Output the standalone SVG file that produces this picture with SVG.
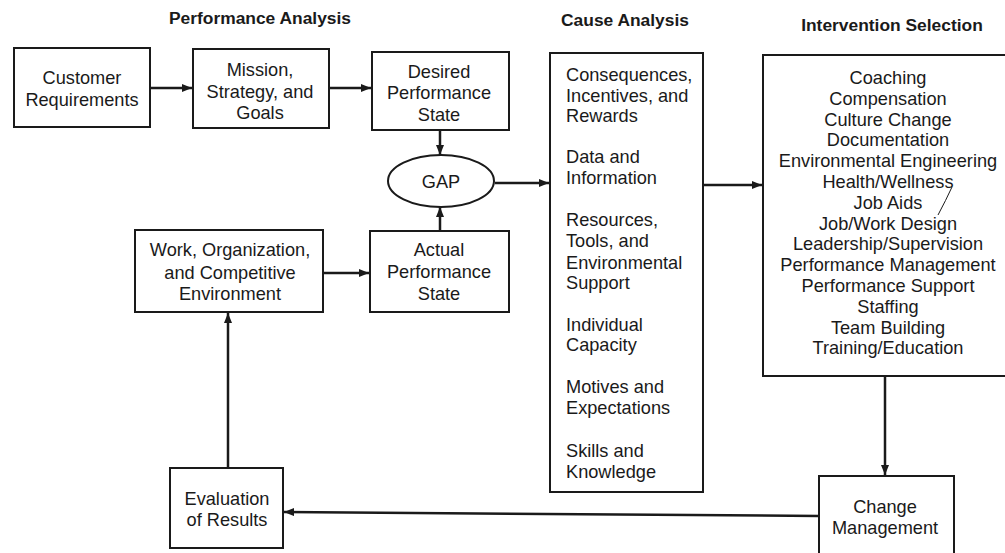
<svg xmlns="http://www.w3.org/2000/svg" width="1005" height="553" viewBox="0 0 1005 553">
<style>
.box{fill:#fff;stroke:#1a1a1a;stroke-width:2}
.t{font-family:"Liberation Sans",Arial,sans-serif;font-size:18.2px;fill:#1a1a1a}
.c{text-anchor:middle}
.h{font-family:"Liberation Sans",Arial,sans-serif;font-size:17.4px;font-weight:bold;fill:#1a1a1a;text-anchor:middle}
.ln{stroke:#1a1a1a;stroke-width:2.5;fill:none}
</style>
<defs>
<marker id="ah" viewBox="0 0 10 8" refX="10" refY="4" markerWidth="10" markerHeight="8" markerUnits="userSpaceOnUse" orient="auto">
<path d="M0,0 L10,4 L0,8 z" fill="#1a1a1a"/>
</marker>
</defs>
<rect width="1005" height="553" fill="#fff"/>
<g id="headers">
<text class="h" x="260" y="24">Performance Analysis</text>
<text class="h" x="625" y="26">Cause Analysis</text>
<text class="h" x="892" y="31">Intervention Selection</text>
</g>
<g id="connectors">
<line class="ln" x1="150" y1="88" x2="192" y2="88" marker-end="url(#ah)"/>
<line class="ln" x1="329" y1="88" x2="371" y2="88" marker-end="url(#ah)"/>
<line class="ln" x1="440" y1="130" x2="440" y2="155" marker-end="url(#ah)"/>
<line class="ln" x1="440" y1="231" x2="440" y2="207" marker-end="url(#ah)"/>
<line class="ln" x1="495" y1="183" x2="549" y2="183" marker-end="url(#ah)"/>
<line class="ln" x1="703" y1="185" x2="762" y2="185" marker-end="url(#ah)"/>
<line class="ln" x1="323" y1="273" x2="369" y2="273" marker-end="url(#ah)"/>
<line class="ln" x1="885" y1="376" x2="885" y2="475" marker-end="url(#ah)"/>
<line class="ln" x1="819" y1="516" x2="284" y2="512" marker-end="url(#ah)"/>
<line class="ln" x1="228" y1="468" x2="228" y2="313" marker-end="url(#ah)"/>
</g>
<g id="customer">
<rect class="box" x="14" y="48" width="136" height="79"/>
<text class="t c" x="82" y="84">Customer</text>
<text class="t c" x="82" y="106">Requirements</text>
</g>
<g id="mission">
<rect class="box" x="193" y="49" width="136" height="79"/>
<text class="t c" x="260" y="76">Mission,</text>
<text class="t c" x="260" y="98">Strategy, and</text>
<text class="t c" x="260" y="119">Goals</text>
</g>
<g id="desired">
<rect class="box" x="372" y="52" width="137" height="78"/>
<text class="t c" x="439" y="78">Desired</text>
<text class="t c" x="439" y="99">Performance</text>
<text class="t c" x="439" y="121">State</text>
</g>
<g id="gap">
<ellipse class="box" cx="441" cy="181" rx="53" ry="26"/>
<text class="t c" x="441" y="188">GAP</text>
</g>
<g id="work">
<rect class="box" x="135" y="230" width="188" height="82"/>
<text class="t c" x="230" y="256">Work, Organization,</text>
<text class="t c" x="230" y="279">and Competitive</text>
<text class="t c" x="230" y="300">Environment</text>
</g>
<g id="actual">
<rect class="box" x="370" y="231" width="139" height="81"/>
<text class="t c" x="439" y="256">Actual</text>
<text class="t c" x="439" y="278">Performance</text>
<text class="t c" x="439" y="300">State</text>
</g>
<g id="cause">
<rect class="box" x="550" y="53" width="153" height="439"/>
<text class="t" x="566" y="81">Consequences,</text>
<text class="t" x="566" y="102">Incentives, and</text>
<text class="t" x="566" y="122">Rewards</text>
<text class="t" x="566" y="163">Data and</text>
<text class="t" x="566" y="184">Information</text>
<text class="t" x="566" y="226">Resources,</text>
<text class="t" x="566" y="247">Tools, and</text>
<text class="t" x="566" y="269">Environmental</text>
<text class="t" x="566" y="289">Support</text>
<text class="t" x="566" y="331">Individual</text>
<text class="t" x="566" y="351">Capacity</text>
<text class="t" x="566" y="393">Motives and</text>
<text class="t" x="566" y="414">Expectations</text>
<text class="t" x="566" y="457">Skills and</text>
<text class="t" x="566" y="478">Knowledge</text>
</g>
<g id="intervention">
<rect class="box" x="763" y="55" width="250" height="321"/>
<text class="t c" x="888" y="84">Coaching</text>
<text class="t c" x="888" y="105">Compensation</text>
<text class="t c" x="888" y="126">Culture Change</text>
<text class="t c" x="888" y="146">Documentation</text>
<text class="t c" x="888" y="167">Environmental Engineering</text>
<text class="t c" x="888" y="188">Health/Wellness</text>
<text class="t c" x="888" y="209">Job Aids</text>
<text class="t c" x="888" y="230">Job/Work Design</text>
<text class="t c" x="888" y="250">Leadership/Supervision</text>
<text class="t c" x="888" y="271">Performance Management</text>
<text class="t c" x="888" y="292">Performance Support</text>
<text class="t c" x="888" y="313">Staffing</text>
<text class="t c" x="888" y="334">Team Building</text>
<text class="t c" x="888" y="354">Training/Education</text>
<path d="M952,187 Q946,200 938,215" stroke="#1a1a1a" stroke-width="1" fill="none"/>
</g>
<g id="change">
<rect class="box" x="819" y="476" width="135" height="90"/>
<text class="t c" x="885" y="513">Change</text>
<text class="t c" x="885" y="534">Management</text>
</g>
<g id="evaluation">
<rect class="box" x="170" y="468" width="113" height="80"/>
<text class="t c" x="227" y="505">Evaluation</text>
<text class="t c" x="227" y="526">of Results</text>
</g>
</svg>
